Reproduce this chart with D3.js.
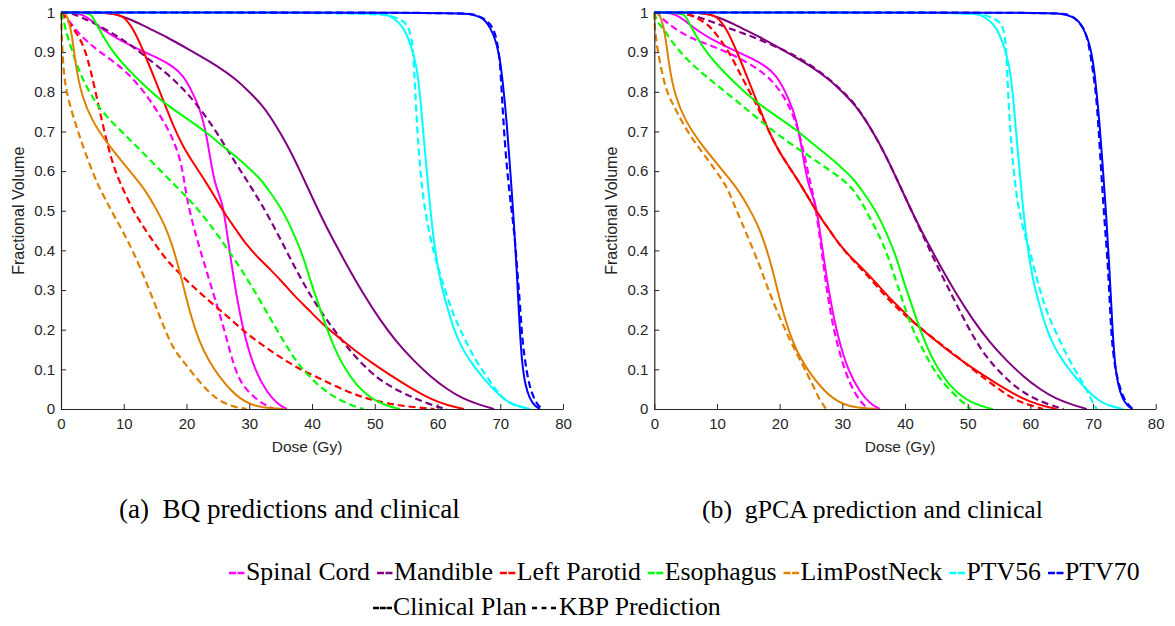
<!DOCTYPE html>
<html><head><meta charset="utf-8">
<script src="https://cdn.jsdelivr.net/npm/d3@7"></script>
<style>body{margin:0;background:#fff}svg{display:block}
.sans{font-family:"Liberation Sans",Arial,Helvetica,sans-serif}
.serif{font-family:"Liberation Serif","DejaVu Serif","Noto Serif","Times New Roman",serif}</style>
</head><body>
<svg id="fig" width="1175" height="626"></svg>
<script>
// ---------------- data ----------------
const organNames = ["Spinal Cord","Mandible","Left Parotid","Esophagus","LimPostNeck","PTV56","PTV70"];
const doseTicks = [0,10,20,30,40,50,60,70,80];
const volTicks = [0,0.1,0.2,0.3,0.4,0.5,0.6,0.7,0.8,0.9,1];
const volTickLabels = ["0","0.1","0.2","0.3","0.4","0.5","0.6","0.7","0.8","0.9","1"];
const captions = ["(a)  BQ predictions and clinical","(b)  gPCA prediction and clinical"];
const styleLegend = ["Clinical Plan","KBP Prediction"];

// clinical plan DVHs [dose Gy, fractional volume] (same in both panels)
const spinalCordClinical = [[0,1],[3.4,1],[5.5,0.97],[7.8,0.945],[10,0.925],[12.6,0.905],[15.5,0.885],[17.9,0.864],[19.5,0.84],[20.6,0.81],[22.2,0.756],[23.2,0.69],[23.8,0.63],[24.5,0.57],[25.3,0.535],[25.9,0.51],[27.2,0.36],[28.2,0.265],[29.3,0.18],[31,0.093],[32.8,0.043],[34.5,0.012],[36,0]];
const mandibleClinical = [[0,1],[7,1],[9,0.995],[11.5,0.98],[14,0.96],[17,0.937],[20,0.91],[25,0.865],[28,0.83],[30,0.8],[32,0.768],[34,0.722],[36,0.668],[38,0.604],[40,0.535],[42,0.468],[44,0.408],[46,0.35],[48,0.295],[50.8,0.225],[53.5,0.168],[56.2,0.122],[59,0.08],[61.5,0.05],[64,0.026],[66.8,0.01],[69,0]];
const leftParotidClinical = [[0,1],[8.5,1],[10,0.99],[11.5,0.96],[13.1,0.905],[15,0.83],[16.5,0.77],[18,0.71],[19.5,0.66],[21.3,0.615],[23,0.575],[24.7,0.53],[26.2,0.49],[28,0.45],[29.5,0.415],[31.5,0.38],[33.5,0.35],[35.4,0.318],[37.2,0.285],[39.5,0.25],[41.8,0.212],[44.5,0.178],[47,0.145],[49.7,0.115],[52.4,0.086],[55,0.06],[57.7,0.035],[60,0.018],[62,0.008],[64.2,0]];
const esophagusClinical = [[0,1],[4.5,1],[5,0.99],[6,0.96],[8,0.905],[10.7,0.855],[15,0.79],[17.5,0.76],[20.3,0.73],[23,0.7],[25.6,0.665],[28,0.635],[30,0.607],[31.8,0.58],[33.2,0.55],[34.7,0.515],[36,0.48],[37.4,0.43],[38.6,0.385],[39.7,0.325],[40.7,0.28],[41.8,0.228],[42.9,0.18],[44.2,0.132],[45.5,0.096],[47,0.062],[48.7,0.036],[50.5,0.017],[52.4,0.006],[54,0]];
const limPostNeckClinical = [[0,1],[0.7,1],[1.2,0.98],[1.7,0.95],[2.4,0.86],[3.3,0.79],[4.9,0.728],[7.2,0.673],[10.2,0.615],[12,0.58],[13.5,0.55],[15,0.51],[16.5,0.465],[17.7,0.415],[18.8,0.355],[19.8,0.29],[20.8,0.23],[22,0.172],[23.5,0.122],[25.3,0.08],[27,0.048],[28.5,0.027],[30.1,0.012],[32,0.004],[35.6,0]];
const ptv56Clinical = [[0,1],[50,1],[52,0.995],[53,0.985],[54.2,0.97],[55.1,0.945],[55.9,0.91],[56.6,0.87],[57.2,0.8],[57.7,0.7],[58.3,0.6],[58.8,0.51],[59.3,0.44],[59.9,0.37],[60.7,0.305],[61.5,0.26],[62.5,0.205],[63.7,0.16],[65,0.125],[66.3,0.098],[68,0.065],[69.5,0.04],[71,0.02],[72.5,0.008],[74.8,0]];
const ptv70Clinical = [[0,1],[63,1],[65,0.997],[66.8,0.99],[67.7,0.978],[68.4,0.962],[69.3,0.93],[70,0.88],[70.5,0.81],[71,0.73],[71.6,0.6],[72.1,0.49],[72.6,0.36],[73.1,0.2],[73.5,0.11],[74,0.06],[74.7,0.025],[75.5,0.008],[76.3,0]];

// BQ (panel a) KBP predictions
const spinalCordBQ = [[0,1],[0.8,0.99],[2.5,0.952],[4.3,0.925],[6.2,0.9],[9.7,0.862],[12.6,0.814],[15,0.76],[16.8,0.714],[18,0.675],[19,0.63],[19.6,0.58],[20.1,0.527],[21.1,0.46],[22.2,0.4],[24.3,0.29],[25.9,0.208],[27.5,0.11],[28.7,0.065],[30.1,0.04],[31.5,0.02],[32.8,0.008],[34,0]];
const mandibleBQ = [[0,1],[1.4,1],[3,0.99],[6.2,0.966],[9,0.94],[11.5,0.914],[14,0.882],[16.8,0.847],[19,0.815],[21.1,0.779],[24.3,0.712],[27.5,0.628],[30.3,0.56],[33.3,0.481],[36.5,0.38],[39.7,0.285],[42.9,0.212],[46.1,0.145],[49.2,0.094],[51.5,0.066],[54,0.044],[56.5,0.026],[58.8,0.012],[60.3,0.004],[61.5,0]];
const leftParotidBQ = [[0,1],[0.5,0.99],[1.5,0.97],[2.5,0.947],[3.5,0.92],[4.3,0.88],[5.1,0.83],[6.7,0.712],[8.3,0.611],[10,0.55],[11.5,0.5],[13.1,0.46],[15,0.415],[16.8,0.376],[19,0.34],[21.1,0.308],[23.2,0.278],[25.3,0.25],[27.5,0.22],[29.6,0.19],[31.8,0.165],[34,0.14],[36,0.12],[38.1,0.1],[40.2,0.085],[42.5,0.067],[45.5,0.045],[48,0.03],[50.8,0.018],[53.5,0.01],[56,0.005],[59.5,0]];
const esophagusBQ = [[0,1],[0.3,0.99],[0.6,0.964],[1.7,0.905],[3,0.847],[4.6,0.796],[6.7,0.745],[10.5,0.687],[14.2,0.628],[18.4,0.56],[21.6,0.51],[24.8,0.443],[28.5,0.359],[31.7,0.275],[34.9,0.185],[36.5,0.145],[38.1,0.107],[39.7,0.08],[41.3,0.056],[43,0.036],[44.5,0.022],[46.5,0.008],[48.2,0]];
const limPostNeckBQ = [[0,1],[0.1,0.95],[0.3,0.88],[0.6,0.82],[1.5,0.76],[2.8,0.695],[4,0.64],[5.7,0.57],[7.2,0.525],[8.7,0.48],[10.5,0.43],[12.6,0.359],[14.7,0.275],[16.8,0.19],[18,0.15],[19.5,0.12],[22.2,0.065],[24.8,0.023],[27.5,0.005],[29.6,0]];
const ptv56BQ = [[0,1],[50,1],[53,0.99],[54.5,0.98],[55.6,0.96],[56.1,0.91],[56.3,0.85],[56.5,0.78],[57,0.65],[57.5,0.56],[58.2,0.48],[59.3,0.4],[60.4,0.34],[62,0.26],[63.3,0.21],[64.7,0.165],[66,0.125],[67.5,0.09],[69,0.055],[70,0.035],[71,0.02],[72.1,0.01],[74.7,0]];
const ptv70BQ = [[0,1],[64,1],[66,0.995],[67.5,0.985],[68.9,0.964],[69.6,0.92],[70,0.87],[70.3,0.78],[70.6,0.7],[71.1,0.6],[71.6,0.527],[72.3,0.44],[72.7,0.35],[73.1,0.275],[73.4,0.2],[73.7,0.15],[74.2,0.095],[74.7,0.056],[75.3,0.03],[75.8,0.014],[76.6,0]];

// gPCA (panel b) KBP predictions
const spinalCordGPCA = [[0,1],[0.5,1],[1.2,0.985],[3,0.962],[5.9,0.934],[9.4,0.915],[13.7,0.885],[17.9,0.845],[20.5,0.795],[22.4,0.737],[23.8,0.653],[24.8,0.575],[25.7,0.52],[27,0.36],[28,0.25],[29.1,0.166],[30.7,0.081],[32.3,0.031],[33.5,0.008],[34.3,0]];
const mandibleGPCA = [[0,1],[4,1],[7,0.989],[9.5,0.975],[12.3,0.958],[15,0.943],[17.6,0.926],[20.3,0.908],[22.9,0.888],[26.6,0.85],[29.8,0.806],[32,0.77],[34,0.722],[36,0.668],[38,0.604],[40.3,0.525],[42.5,0.45],[45,0.365],[47.7,0.28],[50.4,0.195],[53,0.128],[56.7,0.066],[59.9,0.031],[63.1,0.01],[65.3,0]];
const leftParotidGPCA = [[0,1],[5,1],[7,0.985],[8.5,0.97],[9.7,0.95],[12,0.9],[14,0.835],[16.2,0.772],[18,0.71],[19.5,0.66],[21.3,0.615],[23,0.575],[24.7,0.53],[26.2,0.49],[28,0.45],[29.5,0.415],[31.5,0.378],[33.5,0.345],[35.4,0.312],[37.2,0.278],[39.7,0.24],[42.4,0.205],[45,0.172],[47.7,0.14],[50.4,0.105],[53,0.073],[55,0.05],[56.7,0.031],[58.5,0.017],[59.9,0.01],[62,0]];
const esophagusGPCA = [[0,1],[0.2,0.99],[0.5,0.975],[1.7,0.955],[2.5,0.932],[5.2,0.88],[8.9,0.83],[13.1,0.778],[17.4,0.72],[21.6,0.67],[25,0.635],[27.5,0.607],[30,0.58],[31.5,0.558],[33,0.525],[34.4,0.482],[35.8,0.44],[37.1,0.395],[38.7,0.317],[40.8,0.216],[42,0.175],[42.9,0.149],[44,0.115],[45,0.09],[46.3,0.062],[47.7,0.04],[48.8,0.022],[49.8,0.01],[50.5,0]];
const limPostNeckGPCA = [[0,1],[0.05,0.97],[0.3,0.93],[0.6,0.9],[1.2,0.85],[1.8,0.81],[2.6,0.78],[3.5,0.752],[5.6,0.69],[8.5,0.63],[11,0.575],[12,0.545],[13,0.505],[14.7,0.443],[16.9,0.359],[18.2,0.3],[19.5,0.25],[21.6,0.174],[23.8,0.107],[25,0.07],[25.9,0.04],[26.5,0.02],[27,0.01],[27.4,0]];
const ptv56GPCA = [[0,1],[50,1],[52,0.997],[53.5,0.99],[54.8,0.98],[55.7,0.965],[56.1,0.92],[56.3,0.85],[56.5,0.78],[57,0.653],[57.6,0.56],[58.3,0.49],[59.1,0.44],[59.9,0.4],[61,0.33],[62,0.275],[63,0.23],[64.2,0.19],[65.5,0.145],[66.8,0.107],[68,0.075],[69,0.048],[69.6,0.028],[70.1,0.012],[70.6,0]];
const ptv70GPCA = [[0,1],[64,1],[66,0.996],[67.2,0.985],[68.4,0.964],[69,0.94],[69.5,0.905],[70.1,0.84],[70.6,0.78],[71.1,0.653],[71.6,0.527],[72,0.44],[72.4,0.36],[72.9,0.19],[73.3,0.13],[73.7,0.09],[74.2,0.058],[74.8,0.031],[75.4,0.014],[76,0.005],[76.3,0]];

const clinicalSeries = [spinalCordClinical,mandibleClinical,leftParotidClinical,esophagusClinical,limPostNeckClinical,ptv56Clinical,ptv70Clinical];
const bqSeries = [spinalCordBQ,mandibleBQ,leftParotidBQ,esophagusBQ,limPostNeckBQ,ptv56BQ,ptv70BQ];
const gpcaSeries = [spinalCordGPCA,mandibleGPCA,leftParotidGPCA,esophagusGPCA,limPostNeckGPCA,ptv56GPCA,ptv70GPCA];

// ---------------- styles / layout ----------------
const organColors = ["#ff00ff","#800080","#ff0000","#00ff00","#de8000","#00ffff","#0000ff"];
const axisColor = "#262626";

const svg = d3.select("#fig");
const plotTop = 12.5, plotBottom = 409;
const panels = [
  {left:61, right:563, preds:bqSeries, caption:captions[0], capX:119},
  {left:654.3, right:1155.7, preds:gpcaSeries, caption:captions[1], capX:702}
];

panels.forEach(p => {
  const x = d3.scaleLinear().domain([0,80]).range([p.left,p.right]);
  const y = d3.scaleLinear().domain([0,1]).range([plotBottom,plotTop]);
  const g = svg.append("g");

  const line = d3.line().x(d=>x(d[0])).y(d=>y(d[1])).curve(d3.curveBasis);

  organNames.forEach((name,i) => {
    g.append("path").datum(clinicalSeries[i]).attr("d",line)
      .attr("fill","none").attr("stroke",organColors[i]).attr("stroke-width",2)
      .attr("stroke-linejoin","round");
    g.append("path").datum(p.preds[i]).attr("d",line)
      .attr("fill","none").attr("stroke",organColors[i]).attr("stroke-width",2.2)
      .attr("stroke-dasharray","7,4");
  });

  const xAxis = d3.axisBottom(x).tickValues(doseTicks).tickFormat(d=>String(d))
    .tickSizeInner(-5).tickSizeOuter(0).tickPadding(9);
  const yAxis = d3.axisLeft(y).tickValues(volTicks).tickFormat((d,i)=>volTickLabels[i])
    .tickSizeInner(-5).tickSizeOuter(0).tickPadding(6);

  const gx = svg.append("g").attr("transform",`translate(0,${plotBottom})`).call(xAxis);
  const gy = svg.append("g").attr("transform",`translate(${p.left},0)`).call(yAxis);
  [gx,gy].forEach(a => {
    a.attr("font-family",null).attr("font-size",null);
    a.select(".domain").attr("stroke",axisColor).attr("stroke-width",1.2);
    a.selectAll(".tick line").attr("stroke",axisColor).attr("stroke-width",1);
    a.selectAll(".tick text").attr("fill",axisColor).attr("class","sans").style("font-size","15px");
  });

  svg.append("text").attr("class","sans").attr("x",(p.left+p.right)/2-5).attr("y",452)
    .attr("text-anchor","middle").style("font-size","15.5px")
    .attr("fill",axisColor).text("Dose (Gy)");
  svg.append("text").attr("class","sans").attr("transform",`translate(${p.left-42.5},${(plotTop+plotBottom)/2}) rotate(-90)`)
    .attr("text-anchor","middle").attr("dominant-baseline","central")
    .style("font-size","16px").attr("fill",axisColor).text("Fractional Volume");

  const cap = svg.append("text").attr("class","serif").attr("x",p.capX).attr("y",518)
    .style("font-size","20px").attr("fill","#000")
    .attr("xml:space","preserve").text(p.caption);
  const w = cap.node().getComputedTextLength();
  cap.style("font-size", (20*341/w)+"px");
});

// ---------------- legend ----------------
const leg = svg.append("g");
function measure(txt, fs){
  const t = leg.append("text").attr("class","serif").style("font-size",fs+"px").text(txt);
  const w = t.node().getComputedTextLength(); t.remove(); return w;
}
const swW = 17, gap = 7;
const base = organNames.reduce((s,n)=>s+measure(n,20),0);
const fs = 20*(911 - organNames.length*swW - (organNames.length-1)*gap)/base;
let cx = 229;
organNames.forEach((n,i)=>{
  leg.append("line").attr("x1",cx).attr("x2",cx+swW-1).attr("y1",573).attr("y2",573)
    .attr("stroke",organColors[i]).attr("stroke-width",2.6).attr("stroke-dasharray","7,1.5");
  cx += swW;
  leg.append("text").attr("class","serif").attr("x",cx).attr("y",580).style("font-size",fs+"px").text(n);
  cx += measure(n,fs) + gap;
});
// style legend line
let sx = 373;
leg.append("line").attr("x1",sx).attr("x2",sx+19).attr("y1",608).attr("y2",608)
  .attr("stroke","#000").attr("stroke-width",2.6).attr("stroke-dasharray","6,0.8");
sx += 20;
leg.append("text").attr("class","serif").attr("x",sx).attr("y",615).style("font-size",fs+"px").text(styleLegend[0]);
sx += measure(styleLegend[0],fs) + 5;
leg.append("line").attr("x1",sx).attr("x2",sx+24).attr("y1",608).attr("y2",608)
  .attr("stroke","#000").attr("stroke-width",2.6).attr("stroke-dasharray","5,4.5");
sx += 27;
leg.append("text").attr("class","serif").attr("x",sx).attr("y",615).style("font-size",fs+"px").text(styleLegend[1]);
</script>
</body></html>
